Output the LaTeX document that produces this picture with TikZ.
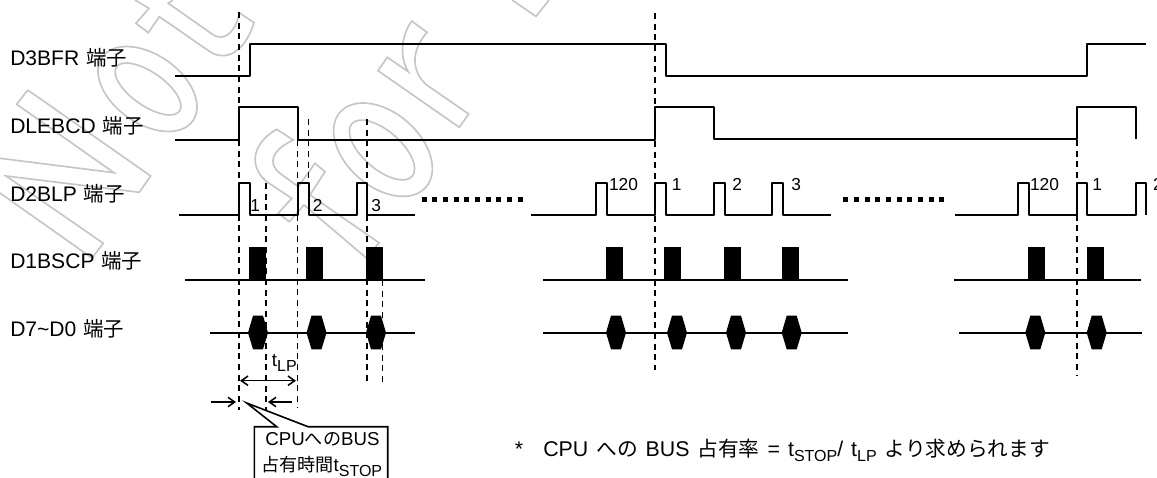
\documentclass[tikz,border=0pt]{standalone}
\usepackage{fontspec}
\setmainfont{Liberation Sans}
\newfontfamily\jp[Scale=0.97]{Noto Sans CJK JP}
\usepackage{tikz}
\usetikzlibrary{arrows.meta}
\newcommand{\lowsub}[1]{\raisebox{-3.75pt}{\fontsize{12}{14}\selectfont #1}}
\newcommand{\pinfont}{\fontsize{15.8}{18}\selectfont\spaceskip 5.2pt\relax}
\newcommand{\notefont}{\fontsize{16}{18}\selectfont\spaceskip 6pt\relax}

\begin{document}
\begin{tikzpicture}[
        x=0.75pt,y=-0.75pt,
        sigline/.style={line width=1.5pt,line join=round},
        busline/.style={line width=1.2pt},
        guide/.style={line width=1.2pt,dash pattern=on 4.6pt off 3.4pt},
        dots/.style={line width=3.75pt,dash pattern=on 3.75pt off 4.25pt},
        wmark/.style={draw=gray!45,line width=1.25pt,line join=miter},
        dimarrow/.style={->,>={Straight Barb[length=5pt,width=7pt]},line width=1.15pt},
        pin/.style={anchor=base west,inner sep=0pt,font=\pinfont},
        count/.style={anchor=base,inner sep=0pt,font=\fontsize{13}{15}\selectfont},
        note/.style={anchor=base west,inner sep=0pt,font=\notefont},
        boxtext/.style={anchor=base west,inner sep=0pt,font=\fontsize{14}{17}\selectfont},
    ]
    \useasboundingbox (0,0) rectangle (1157,478);

    % === Watermark ===
    \draw[wmark] (27.7,90) -- (16.7,104.3) -- (114,172.7) -- (0,158.3);
    \draw[wmark] (27.7,90) -- (150.7,176) -- (139.3,192.3) -- (6,176) -- (103.3,243.3) -- (92,258) -- (0,193);
    \draw[wmark,rotate around={-35:(147.5,89)}] (147.5,89) ellipse (55.4 and 34.4);
    \draw[wmark,rotate around={-35:(148,89)}] (148,89) ellipse (38.5 and 16.7);
    \draw[wmark] (135,0) -- (149,8.3) -- (136,23.3) -- (148.3,32.7) -- (159.3,16.7) -- (210,51.7)
        .. controls (226,62) and (245,52) .. (254,22.7) -- (239.3,12.7)
        .. controls (237,28) and (226,44) .. (212,34) -- (168.3,3.3) -- (173,0);
    \draw[wmark] (276.7,129.3) .. controls (254,142) and (247,165) .. (266.7,181.7) -- (291.7,198.3) -- (278.3,213.3)
        -- (289.3,221.7) -- (304,205) -- (366.7,258.3) -- (379,242.7) -- (310,195) -- (325,171.7) -- (315,163.3)
        -- (298.3,186.7) -- (280,173.3) .. controls (267,163) and (272,150) .. (293.3,140) -- cycle;
    \draw[wmark,rotate around={-41:(383,149.7)}] (383,149.7) ellipse (57 and 37);
    \draw[wmark,rotate around={-41:(382,150)}] (382,150) ellipse (40 and 19);
    \draw[wmark] (411.7,21) .. controls (400,38) and (400,58) .. (408.3,71.7) -- (387.3,57.3) -- (378,70.7)
        -- (459.3,127.3) -- (468.7,114) -- (426.7,85) .. controls (412,72) and (410,52) .. (427,32.3) -- cycle;
    \draw[wmark] (512,0) -- (536,16.4) -- (549,0);

    % === Signals ===
    \draw[sigline] (175,76) -- (250,76) -- (250,44) -- (666,44) -- (666,76) -- (1087,76) -- (1087,44) -- (1146,44);
    \draw[sigline] (175,140) -- (239,140) -- (239,107.5) -- (297.5,107.5) -- (297.5,140) -- (655,140) -- (655,107.5)
        -- (713.7,107.5) -- (713.7,139) -- (1076.7,139) -- (1076.7,107.5) -- (1135.5,107.5) -- (1135.5,139);
    \draw[sigline] (179,215) -- (239,215) -- (239,183) -- (250,183) -- (250,215) -- (297.5,215) -- (297.5,183) -- (309,183)
        -- (309,215) -- (357,215) -- (357,183) -- (367,183) -- (367,215) -- (415,215);
    \draw[sigline] (531,215) -- (596,215) -- (596,183) -- (607,183) -- (607,215) -- (655,215) -- (655,183) -- (666,183)
        -- (666,215) -- (714,215) -- (714,183) -- (725,183) -- (725,215) -- (772,215) -- (772,183) -- (783,183)
        -- (783,215) -- (831,215);
    \draw[sigline] (955,215) -- (1018,215) -- (1018,183) -- (1029,183) -- (1029,215) -- (1076.7,215) -- (1076.7,183)
        -- (1087,183) -- (1087,215) -- (1135.5,215) -- (1135.5,183) -- (1146,183) -- (1146,215);
    \draw[dots] (421.7,199.3) -- (523,199.3);
    \draw[dots] (843.3,199.3) -- (945,199.3);

    \draw[sigline] (185,279.5) -- (425,279.5);
    \draw[sigline] (543,279.5) -- (848,279.5);
    \draw[sigline] (954,279.5) -- (1141,279.5);
    \foreach \x in {249,306,366,605.5,664,723.5,781.5,1028,1086.5}
        \fill (\x,246.7) rectangle ++(17,32.8);

    \draw[busline] (210,332.7) -- (415,332.7);
    \draw[busline] (543,332.7) -- (848,332.7);
    \draw[busline] (959,332.7) -- (1141.7,332.7);
    \foreach \x in {258,316.5,376,616,677,736,791.7,1035.3,1096.7}
        \fill (\x-10,332.7) -- (\x-5,315.7) -- (\x+5,315.7) -- (\x+10,332.7) -- (\x+5,349.3) -- (\x-5,349.3) -- cycle;

    % === Guides ===
    \draw[guide] (239,12) -- (239,410);
    \draw[guide] (266,183) -- (266,411);
    \draw[guide] (297.5,140) -- (297.5,408);
    \draw[guide] (308.5,119) -- (308.5,178);
    \draw[guide] (367,119) -- (367,382);
    \draw[guide] (382.5,280) -- (382.5,384);
    \draw[guide] (655,13) -- (655,370);
    \draw[guide] (1076.7,140) -- (1076.7,375);

    % === Pin names ===
    \node[pin] (bfr) at (10,66) {D3BFR {\jp 端子}};
    \node[pin] (lebcd) at (10,133.5) {DLEBCD {\jp 端子}};
    \node[pin] (blp) at (10,201.7) {D2BLP {\jp 端子}};
    \node[pin] (bscp) at (10,268.3) {D1BSCP {\jp 端子}};
    \node[pin] (data) at (10,336.7) {D7\textasciitilde D0 {\jp 端子}};

    % === Pulse counts ===
    \node[count] (c1) at (255.3,211) {1};
    \node[count] (c2) at (317.7,211) {2};
    \node[count] (c3) at (376.3,211) {3};
    \node[count] (d120) at (623.5,190) {120};
    \node[count] (d1) at (676.7,190) {1};
    \node[count] (d2) at (737.3,190) {2};
    \node[count] (d3) at (796.3,190) {3};
    \node[count] (e120) at (1044.5,190) {120};
    \node[count] (e1) at (1097.3,190) {1};
    \node[count] (e2) at (1158,190) {2};

    % === Timing marks ===
    \node[boxtext] (tlp) at (271.7,366.7) {t\lowsub{LP}};
    \draw[dimarrow,<->] (240,380.7) -- (296,380.7);
    \draw[dimarrow] (211,402) -- (236,402);
    \draw[dimarrow] (292,402) -- (268,402);

    % === Callout ===
    \draw[busline,fill=white] (254.3,478) -- (254.3,426.7) -- (276.7,426.7) -- (246.7,403) -- (308,426.7)
        -- (387.7,426.7) -- (387.7,478);
    \node[boxtext,anchor=base] (bus) at (322.5,445) {CPU{\jp への}BUS};
    \node[boxtext] (stop) at (261,471) {{\jp 占有時間}t\lowsub{STOP}};

    % === Footnote ===
    \node[note] (star) at (514.7,456) {*};
    \node[note] (rate) at (543,456) {CPU {\jp への} BUS {\jp 占有率} = t\lowsub{STOP}/ t\lowsub{LP} {\jp より求められます}};
\end{tikzpicture}
\end{document}
